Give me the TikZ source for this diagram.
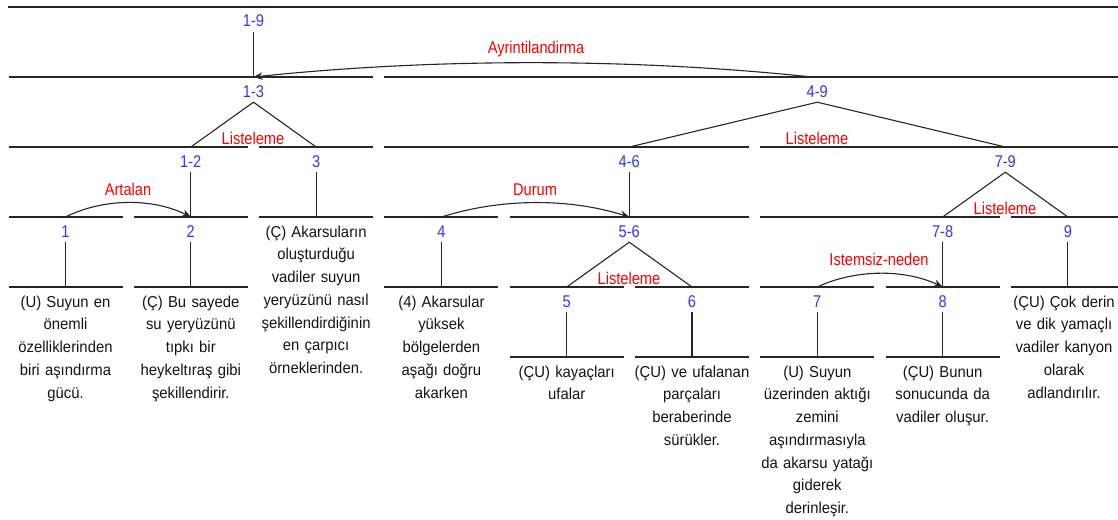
\documentclass[tikz,border=0pt]{standalone}
\usepackage{fontspec}
\setmainfont{Liberation Sans}
\newfontfamily\labfont[FakeStretch=0.86]{Liberation Sans}
\newfontfamily\txtfont[FakeStretch=0.94]{Liberation Sans}
\usetikzlibrary{arrows.meta}
\definecolor{labblue}{RGB}{51,51,255}
\definecolor{relred}{RGB}{255,0,0}
\definecolor{txtgray}{RGB}{20,20,20}
\begin{document}
\begin{tikzpicture}[x=1pt,y=-1pt,
  hline/.style={line width=1.3pt, black!85},
  conn/.style={line width=1.1pt, black!85},
  relarc/.style={line width=1.1pt, black!85, -{Stealth[length=9pt,width=7.5pt]}},
  lab/.style={inner xsep=0pt, inner ysep=5pt, text depth=0pt, anchor=base, text=labblue, font=\labfont\fontsize{17}{20}\selectfont},
  rel/.style={inner sep=0pt, anchor=base, text=relred, font=\labfont\fontsize{17}{20}\selectfont},
  leaf/.style={inner sep=0pt, anchor=north, text width=125pt, align=center, text=txtgray, font=\txtfont\fontsize{15.8}{22.7}\selectfont},
]
\useasboundingbox (0,0) rectangle (1118,519);
\fill[white] (0,0) rectangle (1118,519);

% horizontal lines
\draw[hline] (8,7) -- (1118,7);
\draw[hline] (8.5,77) -- (373,77) (384.4,77) -- (1118,77);
\draw[hline] (8.5,147) -- (247.8,147) (259.1,147) -- (373,147) (384.4,147) -- (749,147) (760.3,147) -- (1118,147);
\draw[hline] (8.5,217) -- (122.5,217) (133.8,217) -- (247.8,217) (259.1,217) -- (373,217)
  (384.4,217) -- (498.4,217) (509.7,217) -- (749,217) (760.3,217) -- (999.6,217) (1010.9,217) -- (1118,217);
\draw[hline] (8.5,287) -- (122.5,287) (133.8,287) -- (247.8,287) (384.4,287) -- (498.4,287)
  (509.7,287) -- (623.7,287) (635,287) -- (749,287) (760.3,287) -- (874.3,287) (885.6,287) -- (999.6,287) (1010.9,287) -- (1118,287);
\draw[hline] (509.7,357) -- (623.7,357) (635,357) -- (749,357) (760.3,357) -- (874.3,357) (885.6,357) -- (999.6,357);

% attachment points
\coordinate (p13) at (253.5,77);
\coordinate (p49) at (812,77);
\coordinate (p12) at (190.8,147);
\coordinate (p3) at (316.1,147);
\coordinate (p46) at (629.3,147);
\coordinate (p79) at (1005.3,147);
\coordinate (p1) at (65.5,217);
\coordinate (p2) at (190.8,217);
\coordinate (q3) at (316.1,217);
\coordinate (p4) at (441.4,217);
\coordinate (p56) at (629.3,217);
\coordinate (p78) at (942.6,217);
\coordinate (p9) at (1067.9,217);
\coordinate (q1) at (65.5,287);
\coordinate (q2) at (190.8,287);
\coordinate (q4) at (441.4,287);
\coordinate (p5) at (566.7,287);
\coordinate (p6) at (692,287);
\coordinate (p7) at (817.3,287);
\coordinate (p8) at (942.6,287);
\coordinate (q9) at (1067.9,287);
\coordinate (q5) at (566.7,357);
\coordinate (q6) at (692,357);
\coordinate (q7) at (817.3,357);
\coordinate (q8) at (942.6,357);

% span labels
\node[lab] (n19) at (253.5,27) {1-9};
\node[lab] (n13) at (253.5,97) {1-3};
\node[lab] (n49) at (817.3,97) {4-9};
\node[lab] (n12) at (190.8,167) {1-2};
\node[lab] (n3) at (316.1,167) {3};
\node[lab] (n46) at (629.3,167) {4-6};
\node[lab] (n79) at (1005.3,167) {7-9};
\node[lab] (n1) at (65.5,237) {1};
\node[lab] (n2) at (190.8,237) {2};
\node[lab] (n4) at (441.4,237) {4};
\node[lab] (n56) at (629.3,237) {5-6};
\node[lab] (n78) at (942.6,237) {7-8};
\node[lab] (n9) at (1067.9,237) {9};
\node[lab] (n5) at (566.7,307) {5};
\node[lab] (n6) at (692,307) {6};
\node[lab] (n7) at (817.3,307) {7};
\node[lab] (n8) at (942.6,307) {8};

% relation labels
\node[rel] (rAyr) at (536,54) {Ayrintilandirma};
\node[rel] (rL13) at (253,144) {Listeleme};
\node[rel] (rL49) at (817,144) {Listeleme};
\node[rel] (rArt) at (128,195) {Artalan};
\node[rel] (rDur) at (535,195) {Durum};
\node[rel] (rL79) at (1005,214) {Listeleme};
\node[rel] (rIst) at (879,265) {Istemsiz-neden};
\node[rel] (rL56) at (629,284) {Listeleme};

% verticals
\draw[conn] (n19.south) -- (p13);
\draw[conn] (n12.south) -- (p2);
\draw[conn] (n3.south) -- (q3);
\draw[conn] (n46.south) -- (p56);
\draw[conn] (n1.south) -- (q1);
\draw[conn] (n2.south) -- (q2);
\draw[conn] (n4.south) -- (q4);
\draw[conn] (n78.south) -- (p8);
\draw[conn] (n9.south) -- (q9);
\draw[conn] (n5.south) -- (q5);
\draw[conn] (n6.south) -- (q6);
\draw[conn] (n7.south) -- (q7);
\draw[conn] (n8.south) -- (q8);

% multinuclear triangles
\draw[conn] (p12) -- (n13.south) -- (p3);
\draw[conn] (p46) -- (n49.south) -- (p79);
\draw[conn] (p78) -- (n79.south) -- (p9);
\draw[conn] (p5) -- (n56.south) -- (p6);

% relation arcs
\draw[relarc] (p49) .. controls +(-180,-19) and +(180,-19) .. (p13);
\draw[relarc] (p1) .. controls +(38,-19) and +(-38,-19) .. (p2);
\draw[relarc] (p4) .. controls +(60,-19) and +(-60,-19) .. (p56);
\draw[relarc] (p7) .. controls +(38,-18) and +(-38,-18) .. (p8);

% leaf texts
\node[leaf] (t1) at (65.5,292) {\rule{0pt}{15pt}(U) Suyun en\\önemli\\özelliklerinden\\biri aşındırma\\gücü.};
\node[leaf] (t2) at (190.8,292) {\rule{0pt}{15pt}(Ç) Bu sayede\\su yeryüzünü\\tıpkı bir\\heykeltıraş gibi\\şekillendirir.};
\node[leaf] (t3) at (316.1,222) {\rule{0pt}{15pt}(Ç) Akarsuların\\oluşturduğu\\vadiler suyun\\yeryüzünü nasıl\\şekillendirdiğinin\\en çarpıcı\\örneklerinden.};
\node[leaf] (t4) at (441.4,292) {\rule{0pt}{15pt}(4) Akarsular\\yüksek\\bölgelerden\\aşağı doğru\\akarken};
\node[leaf] (t5) at (566.7,362) {\rule{0pt}{15pt}(ÇU) kayaçları\\ufalar};
\node[leaf] (t6) at (692,362) {\rule{0pt}{15pt}(ÇU) ve ufalanan\\parçaları\\beraberinde\\sürükler.};
\node[leaf] (t7) at (817.3,362) {\rule{0pt}{15pt}(U) Suyun\\üzerinden aktığı\\zemini\\aşındırmasıyla\\da akarsu yatağı\\giderek\\derinleşir.};
\node[leaf] (t8) at (942.6,362) {\rule{0pt}{15pt}(ÇU) Bunun\\sonucunda da\\vadiler oluşur.};
\node[leaf] (t9) at (1064,292) {\rule{0pt}{15pt}(ÇU) Çok derin\\ve dik yamaçlı\\vadiler kanyon\\olarak\\adlandırılır.};
\end{tikzpicture}
\end{document}
